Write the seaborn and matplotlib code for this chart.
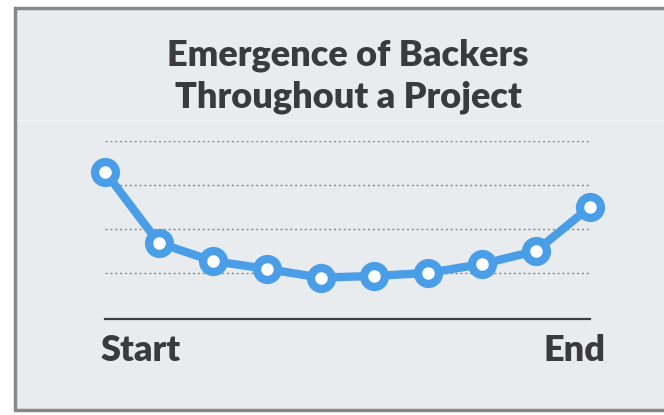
import matplotlib
matplotlib.use("Agg")
import matplotlib.pyplot as plt
import seaborn as sns
import pandas as pd
from matplotlib.patches import Rectangle
from matplotlib.lines import Line2D

# data
steps = list(range(10))
backers = [3.30, 1.68, 1.27, 1.09, 0.89, 0.93, 1.00, 1.20, 1.50, 2.50]
grid_levels = [1, 2, 3, 4]
x_labels = ["Start", "End"]
title = "Emergence of Backers\nThroughout a Project"

sns.set_theme(style="white")
plt.rcParams['font.family'] = ['Lato', 'DejaVu Sans']

W, H = 664, 415
fig = plt.figure(figsize=(W / 100, H / 100), dpi=100)
fig.patch.set_facecolor("white")

bg = "#e9ecef"
frame = Rectangle((15 / W, 1 - 410 / H), (W + 20) / W, (410 - 8) / H,
                  transform=fig.transFigure, facecolor=bg, edgecolor="#86888b",
                  linewidth=2.5, zorder=-10)
fig.patches.append(frame)
fig.lines.append(Line2D([17 / W, 1], [1 - 120 / H, 1 - 120 / H], transform=fig.transFigure,
                        color="#f3f5f7", linewidth=1, zorder=-5))

left, right = 105 / W, 590 / W
top_px, bot_px = 141, 319
ax = fig.add_axes([left, 1 - bot_px / H, right - left, (bot_px - top_px) / H])
ax.set_facecolor("none")
ax.patch.set_alpha(0)

df = pd.DataFrame({"step": steps, "backers": backers})
sns.lineplot(data=df, x="step", y="backers", ax=ax, color="#4a9ee8",
             linewidth=6, marker="o", markersize=15, markerfacecolor="white",
             markeredgecolor="#4a9ee8", markeredgewidth=6, clip_on=False, zorder=5)

for g in grid_levels:
    ax.axhline(g, color="#85878a", linewidth=1, linestyle=(0, (1.5, 2)), zorder=1)

ax.set_xlim(0, 9)
ax.set_ylim(-0.05, 4.0)
for s in ["top", "left", "right"]:
    ax.spines[s].set_visible(False)
ax.spines["bottom"].set_color("#3c4043")
ax.spines["bottom"].set_linewidth(1.6)
ax.set_xticks([])
ax.set_yticks([])
ax.set_xlabel("")
ax.set_ylabel("")

fig.text(101 / W, 1 - 350 / H, x_labels[0], ha="left", va="center",
         fontsize=26, fontweight="heavy", color="#3a3b3d")
fig.text(605 / W, 1 - 350 / H, x_labels[1], ha="right", va="center",
         fontsize=26, fontweight="heavy", color="#3a3b3d")

fig.text(348 / W, 1 - 76 / H, title, ha="center", va="center",
         fontsize=26, fontweight="heavy", color="#3a3b3d", linespacing=1.32)

fig.savefig("out.png", dpi=100, facecolor="white")
